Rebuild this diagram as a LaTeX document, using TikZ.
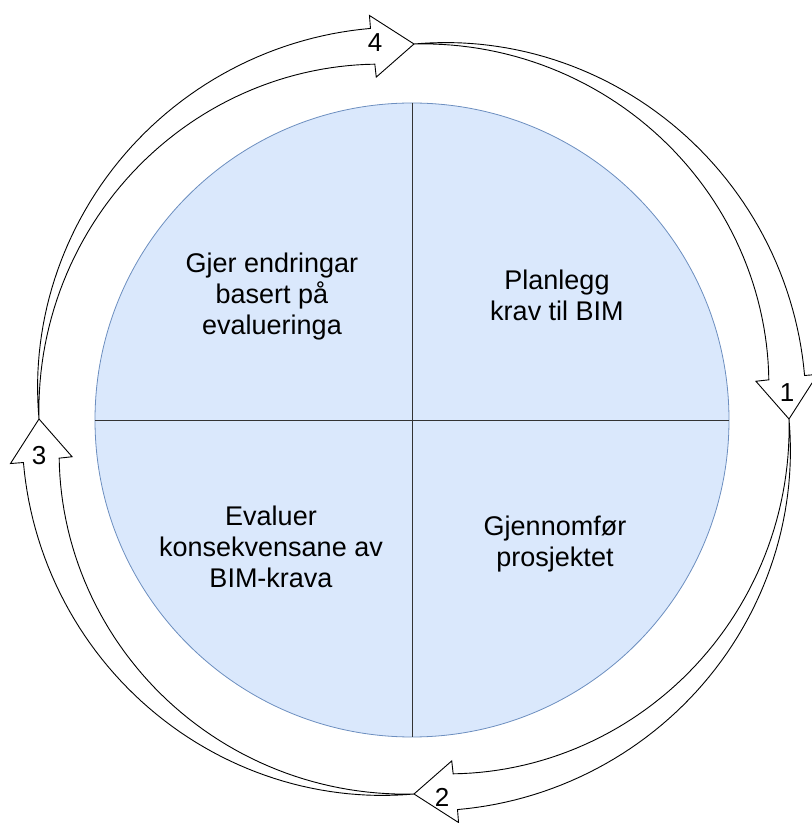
\documentclass[tikz,border=0pt]{standalone}
\usepackage{fontspec}
\setmainfont{Liberation Sans}
\definecolor{fillblue}{HTML}{DAE8FC}
\definecolor{strokeblue}{HTML}{6C8EBF}
\definecolor{divline}{HTML}{333333}
\begin{document}
\begin{tikzpicture}[x=1pt,y=1pt,
  arr/.style={draw=black, line width=0.9pt, fill=white, line join=miter},
  txt/.style={align=center, font=\fontsize{27}{31}\selectfont, inner sep=0pt},
  num/.style={font=\fontsize{26}{30}\selectfont, inner sep=0pt}]
\useasboundingbox (0,0) rectangle (812,823);
\def\R{375}
\def\h{6.3}
\coordinate (c) at (414,404);
% main circle
\node[circle, draw=strokeblue, fill=fillblue, line width=0.8pt, minimum size=634pt, inner sep=0pt] (disk) at (412,403) {};
\draw[divline, line width=0.9pt] (disk.north) -- (disk.south);
\draw[divline, line width=0.9pt] (disk.west) -- (disk.east);
% curved arrows
\foreach \a in {90,0,-90,180}{
  \begin{scope}[shift={(c)}]
  \draw[arr]
    plot[domain=0:1, samples=60, variable=\t] ({\a - \t*(90-\h)}:{\R + 50*\t - 32*\t*\t})
    -- ({\a-90+\h}:{\R+31}) -- ({\a-90}:{\R}) -- ({\a-90+\h}:{\R-31})
    -- plot[domain=1:0, samples=60, variable=\t] ({\a - \t*(90-\h)}:{\R + 14*\t - 32*\t*\t})
    -- cycle;
  \end{scope}
}
% labels
\node[num] (n4) at (375,780) {4};
\node[num] (n1) at (787,430) {1};
\node[num] (n2) at (442,26) {2};
\node[num] (n3) at (39,367) {3};
% texts
\node[txt] (tr) at (557,528) {Planlegg\\krav til BIM};
\node[txt] (tl) at (272,526) {Gjer endringar\\basert på\\evalueringa};
\node[txt] (bl) at (271,276) {Evaluer\\konsekvensane av\\BIM-krava};
\node[txt] (br) at (555,279) {Gjennomfør\\prosjektet};
\end{tikzpicture}
\end{document}
